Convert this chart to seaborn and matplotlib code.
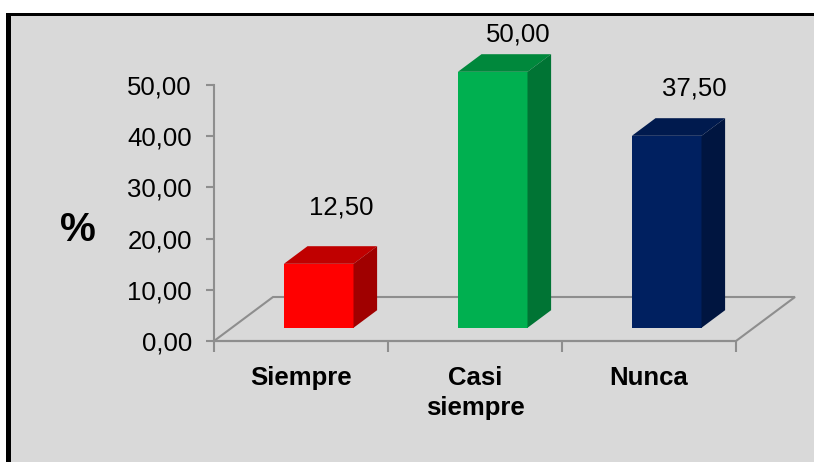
import numpy as np
import pandas as pd
import matplotlib
matplotlib.use("Agg")
import matplotlib.pyplot as plt
import seaborn as sns
from matplotlib.patches import Polygon, Rectangle
from matplotlib.transforms import IdentityTransform

# ---- data ----
categories = ["Siempre", "Casi siempre", "Nunca"]
tick_labels = ["Siempre", "Casi\nsiempre", "Nunca"]
values = [12.50, 50.00, 37.50]
y_ticks = [0, 10, 20, 30, 40, 50]

# ---- style ----
front_colors = ["#FF0000", "#00B050", "#002060"]
top_colors = ["#C00000", "#00883C", "#001A4E"]
side_colors = ["#A00000", "#007434", "#001540"]
label_dx_px = [23, 26, 28]
label_dy_px = [56, 37, 47]
GRAY = "#8E8E8E"
BG = "#D9D9D9"

sns.set_style("white")
plt.rcParams["font.family"] = ["Liberation Sans", "DejaVu Sans"]
plt.rcParams["text.color"] = "black"
plt.rcParams["axes.labelcolor"] = "black"
plt.rcParams["xtick.color"] = "black"
plt.rcParams["ytick.color"] = "black"

W, H = 814, 462
fig = plt.figure(figsize=(W / 100, H / 100), dpi=100)
fig.patch.set_facecolor("white")

# outer black frame and gray panel
fig.add_artist(Rectangle((6 / W, -0.1), 1.2, 1 - 13 / H + 0.1, transform=fig.transFigure,
                         facecolor="black", edgecolor="none", zorder=-3))
fig.add_artist(Rectangle((11 / W, -0.1), 1.2, 1 - 16 / H + 0.1, transform=fig.transFigure,
                         facecolor=BG, edgecolor="none", zorder=-2))

# front plane axis (ticks, labels, floor)
axA = fig.add_axes([214 / W, 1 - 341 / H, 522 / W, 256 / H])
axA.set_facecolor("none")
axA.set_xlim(-0.5, 2.5)
axA.set_ylim(0, 50)
for s in ["top", "right"]:
    axA.spines[s].set_visible(False)
for s in ["left", "bottom"]:
    axA.spines[s].set_color(GRAY)
    axA.spines[s].set_linewidth(1.5)
axA.set_yticks(y_ticks)
axA.set_yticklabels([f"{t:.2f}".replace(".", ",") for t in y_ticks])
axA.tick_params(axis="y", left=True, length=6, width=1.5, color=GRAY, pad=10,
                labelsize=18.5, labelcolor="black")
axA.set_xticks([-0.5, 0.5, 1.5, 2.5])
axA.set_xticklabels([])
axA.set_xticks([0, 1, 2], minor=True)
axA.set_xticklabels(tick_labels, minor=True, fontweight="bold", fontsize=18.5,
                    color="black", linespacing=1.3)
axA.tick_params(axis="x", which="major", bottom=True, length=8, width=1.5, color=GRAY,
                direction="out")
axA.tick_params(axis="x", which="minor", bottom=True, length=0, pad=18, labelcolor="black")
axA.set_ylabel("%", rotation=0, fontsize=29, fontweight="bold", va="center", ha="center",
               color="black")
axA.yaxis.set_label_coords((78 - 214) / 522, (341 - 230) / 256)

# floor outline
fig.canvas.draw()
p0 = axA.transAxes.transform((0, 0))
p1 = axA.transAxes.transform((1, 0))
off = np.array([59, 44])
floor = Polygon([p0, p1, p1 + off, p0 + off], closed=True, fill=False, edgecolor=GRAY,
                linewidth=1.5, transform=IdentityTransform(), clip_on=False)
axA.add_patch(floor)

# bar plane axis
axB = fig.add_axes([(214 + 17.7) / W, 1 - (341 - 13.2) / H, 522 / W, 256 / H])
axB.set_facecolor("none")
df = pd.DataFrame({"cat": categories, "val": values})
sns.barplot(data=df, x="cat", y="val", hue="cat", order=categories, hue_order=categories,
            palette=front_colors, saturation=1, width=0.4, legend=False, ax=axB)
axB.set_xlim(-0.5, 2.5)
axB.set_ylim(0, 50)
axB.axis("off")
fig.canvas.draw()

dx, dy = 23.6, 17.6
bars = sorted(axB.patches, key=lambda p: p.get_x())
for i, p in enumerate(bars):
    p.set_clip_on(False)
    p.set_edgecolor("none")
    x0, y0 = p.get_x(), p.get_y()
    x1, y1 = x0 + p.get_width(), y0 + p.get_height()
    a = axB.transData.transform((x0, y1))
    b = axB.transData.transform((x1, y1))
    c = axB.transData.transform((x1, y0))
    top = Polygon([a, b, b + [dx, dy], a + [dx, dy]], closed=True, facecolor=top_colors[i],
                  edgecolor="none", transform=IdentityTransform(), clip_on=False)
    side = Polygon([c, b, b + [dx, dy], c + [dx, dy]], closed=True, facecolor=side_colors[i],
                   edgecolor="none", transform=IdentityTransform(), clip_on=False)
    axB.add_patch(top)
    axB.add_patch(side)
    v = values[i]
    axB.annotate(f"{v:.2f}".replace(".", ","), xy=((x0 + x1) / 2, v),
                 xytext=(label_dx_px[i] * 0.72, label_dy_px[i] * 0.72), textcoords="offset points",
                 ha="center", va="center", fontsize=18.5, color="black", annotation_clip=False)

fig.savefig("out.png", dpi=100, facecolor="white")
